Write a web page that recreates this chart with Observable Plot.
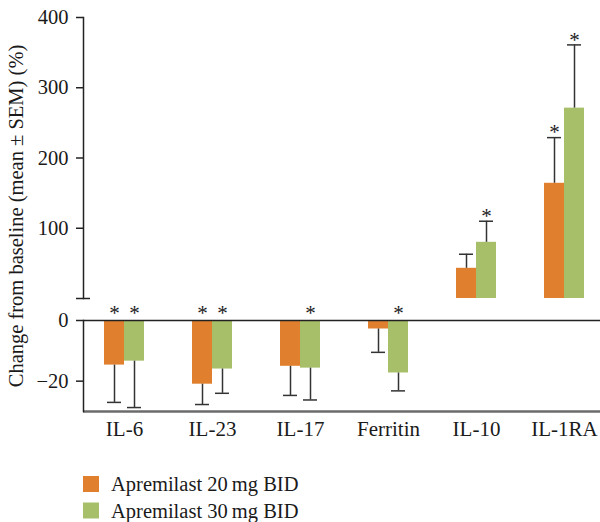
<!DOCTYPE html>
<html><head><meta charset="utf-8">
<script src="https://cdn.jsdelivr.net/npm/d3@7"></script>
<script src="https://cdn.jsdelivr.net/npm/@observablehq/plot@0.6"></script>
<style>
body{margin:0;background:#fff;}
#wrap{position:relative;width:600px;height:522px;font-family:"Liberation Serif",serif;color:#1a1a1a;overflow:hidden;}
#upper,#lower{position:absolute;left:0;}
#upper{top:0;}
#lower{top:300px;}
#over{position:absolute;left:0;top:0;pointer-events:none;}
</style></head><body>
<div id="wrap"><div id="upper"></div><div id="lower"></div><svg id="over" width="600" height="522"></svg></div>
<script>
const categories = ["IL-6", "IL-23", "IL-17", "Ferritin", "IL-10", "IL-1RA"];
const series = ["Apremilast 20\u2009mg BID", "Apremilast 30\u2009mg BID"];
const mean20 = [-14.7, -21.0, -15.1, -2.8, 43, 164];
const sem20  = [12.3, 6.7, 9.6, 7.7, 20, 65];
const sig20  = [true, true, false, false, false, true];
const mean30 = [-13.4, -16.0, -15.7, -17.3, 80, 271];
const sem30  = [15.3, 8.0, 10.5, 5.9, 30, 90];
const sig30  = [true, true, true, true, true, true];
const upperTicks = [100, 200, 300, 400];
const lowerTicks = [0, -20];
const colors = ["#e0802e", "#a8bf6a"];
const yTitle = "Change from baseline (mean \u00b1 SEM) (%)";

const rows = categories.flatMap((c, i) => [
  {cat: c, dose: 0, mean: mean20[i], sem: sem20[i], sig: sig20[i]},
  {cat: c, dose: 1, mean: mean30[i], sem: sem30[i], sig: sig30[i]}
]).map(d => ({...d, end: d.mean + Math.sign(d.mean) * d.sem}));

const font = {fontFamily: "'Liberation Serif', serif", fontSize: "20px", color: "#1a1a1a", background: "transparent", overflow: "visible"};
const xScale = {type: "band", domain: categories, range: [83, 605], paddingInner: 0.5475, paddingOuter: 0.2262};
const errStroke = "#333";
const fmt = d => d < 0 ? "\u2212" + Math.abs(d) : String(d);

function dataMarks(data, starsAtZero) {
  const m = [];
  [0, 1].forEach(k => {
    const d = data.filter(r => r.dose === k);
    const sideIn = k === 0 ? {insetRight: 20} : {insetLeft: 20};
    const dx = k === 0 ? -10 : 10;
    m.push(Plot.barY(d, {x: "cat", y: "mean", fill: colors[k], ...sideIn}));
    m.push(Plot.ruleX(d, {x: "cat", y1: "mean", y2: "end", dx, stroke: errStroke, strokeWidth: 1.5}));
    m.push(Plot.tickY(d, {x: "cat", y: "end", stroke: errStroke, strokeWidth: 1.5,
      insetLeft: k === 0 ? 3 : 23, insetRight: k === 0 ? 23 : 3}));
    const s = d.filter(r => r.sig);
    m.push(Plot.text(s, {x: "cat", y: starsAtZero ? () => 0 : "end", text: () => "*", dx,
      dy: starsAtZero ? -7 : -5, fontSize: 21, fill: "#222"}));
  });
  return m;
}

const upperData = rows.filter(r => r.mean > 0);
const lowerData = rows.filter(r => r.mean < 0);

const upperChart = Plot.plot({
  width: 600, height: 300,
  marginLeft: 83, marginRight: 0, marginTop: 17, marginBottom: 2,
  style: font,
  x: {...xScale, axis: null},
  y: {domain: [0, 400], axis: null},
  marks: [
    ...dataMarks(upperData, false),
    Plot.frame({anchor: "left", stroke: "#222", strokeWidth: 1.5}),
    Plot.axisY(upperTicks, {tickSize: 7, tickPadding: 8, fontSize: 20.5, tickFormat: fmt, stroke: "#222", strokeWidth: 1.5, label: null}),
    Plot.axisY([0], {tickSize: 14, dx: 7, tickFormat: () => "", stroke: "#222", strokeWidth: 1.5, label: null})
  ]
});
document.getElementById("upper").appendChild(upperChart);

const lowerChart = Plot.plot({
  width: 600, height: 145,
  marginLeft: 83, marginRight: 0, marginTop: 20, marginBottom: 34,
  style: font,
  x: {...xScale},
  y: {domain: [-30, 0], axis: null},
  marks: [
    ...dataMarks(lowerData, true),
    Plot.ruleY([0], {stroke: "#222", strokeWidth: 1.5}),
    Plot.ruleY([-30], {stroke: "#6b6b6b", strokeWidth: 2.5}),
    Plot.frame({anchor: "left", stroke: "#222", strokeWidth: 1.5}),
    Plot.axisY(lowerTicks, {tickSize: 7, tickPadding: 8, fontSize: 20.5, tickFormat: fmt, stroke: "#222", strokeWidth: 1.5, label: null}),
    Plot.axisX({tickSize: 0, tickPadding: 10, fontSize: 21, label: null})
  ]
});
document.getElementById("lower").appendChild(lowerChart);

// y title and legend
const over = d3.select("#over").style("font-family", "'Liberation Serif', serif").style("fill", "#1a1a1a");
over.append("text").attr("transform", "translate(23,216) rotate(-90)")
  .attr("text-anchor", "middle").attr("font-size", 20.5).text(yTitle);
const leg = over.selectAll("g.leg").data(series).join("g").attr("class", "leg")
  .attr("transform", (d, i) => `translate(83,${476 + i * 26.5})`);
leg.append("rect").attr("width", 16).attr("height", 16).attr("fill", (d, i) => colors[i]);
leg.append("text").attr("x", 28).attr("y", 15).attr("font-size", 20.5).text(d => d);
</script>
</body></html>
